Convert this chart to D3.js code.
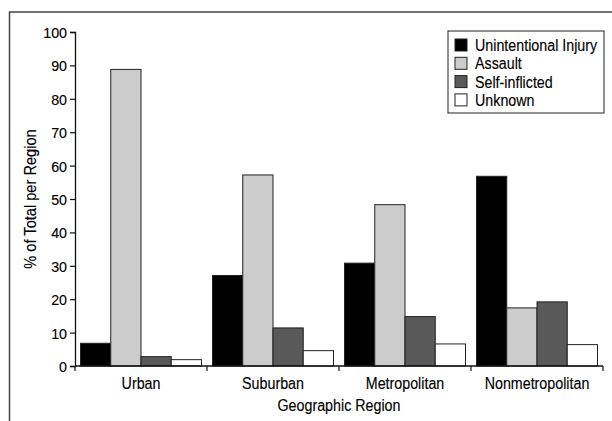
<!DOCTYPE html>
<html>
<head>
<meta charset="utf-8">
<script src="https://cdn.jsdelivr.net/npm/d3@7"></script>
<style>
    body { margin: 0; background: #fff; }
    text { font-family: "Liberation Sans", Arial, sans-serif; fill: #000; stroke: #000; stroke-width: 0.15px; }
</style>
</head>
<body>
<svg id="chart" width="612" height="421"></svg>
<script>
// chart data
var regions = ["Urban", "Suburban", "Metropolitan", "Nonmetropolitan"];
var seriesNames = ["Unintentional Injury", "Assault", "Self-inflicted", "Unknown"];
var unintentional = [6.8, 27.1, 30.8, 56.8];
var assault = [88.8, 57.2, 48.3, 17.4];
var selfInflicted = [2.8, 11.4, 14.8, 19.2];
var unknown = [1.9, 4.6, 6.6, 6.4];
var yTicks = [0, 10, 20, 30, 40, 50, 60, 70, 80, 90, 100];

var seriesValues = [unintentional, assault, selfInflicted, unknown];
var seriesColors = ["#000000", "#cccccc", "#595959", "#ffffff"];
var labelSize = "17px";
var squeeze = 0.84;

var svg = d3.select("#chart");

/*
 *** Narrow the text horizontally to look like a condensed face
 */
function condense(selection, factor){
    selection.each(function(){
        var t = d3.select(this);
        var tx = +t.attr("x") || 0;
        var ty = +t.attr("y") || 0;
        var base = t.attr("transform") || ("translate(" + tx + "," + ty + ")");
        t.attr("x", null).attr("y", null)
            .attr("transform", base + " scale(" + factor + ",1)");
    });
}

/*
 *** Outer frame
 */
svg.append("rect")
    .attr("x", 9.5).attr("y", 12)
    .attr("width", 640).attr("height", 440)
    .attr("fill", "none")
    .attr("stroke", "#444")
    .attr("stroke-width", 1.5);

var x0 = d3.scaleBand()
    .domain(regions)
    .range([75, 603])
    .paddingInner(0)
    .paddingOuter(0);

var x1 = d3.scaleBand()
    .domain(seriesNames)
    .range([5.5, x0.bandwidth() - 5.5]);

var y = d3.scaleLinear()
    .domain([0, 100])
    .range([366, 32]);

// Bars
var groups = svg.selectAll(".regionGroup")
    .data(regions)
    .enter().append("g")
    .attr("class", "regionGroup")
    .attr("transform", function(d){ return "translate(" + x0(d) + ",0)"; });

groups.selectAll("rect")
    .data(function(d, i){
        return seriesNames.map(function(s, j){ return {series: s, value: seriesValues[j][i], color: seriesColors[j]}; });
    })
    .enter().append("rect")
    .attr("x", function(d){ return x1(d.series); })
    .attr("y", function(d){ return y(d.value); })
    .attr("width", x1.bandwidth())
    .attr("height", function(d){ return y(0) - y(d.value); })
    .attr("fill", function(d){ return d.color; })
    .attr("stroke", "#222")
    .attr("stroke-width", 1);

// Y axis
var yAxis = svg.append("g")
    .attr("transform", "translate(75,0)")
    .call(d3.axisLeft(y).tickValues(yTicks).tickSize(5).tickPadding(3));
yAxis.attr("font-family", null).attr("font-size", null);
yAxis.select(".domain").attr("stroke", "#111").attr("stroke-width", 1.3);
yAxis.selectAll(".tick line").attr("stroke", "#111").attr("stroke-width", 1.2);
yAxis.selectAll(".tick text")
    .attr("font-size", "15.5px")
    .attr("dy", "0.36em")
    .call(condense, 0.92);

// X axis: ticks sit at band edges
var xAxis = svg.append("g")
    .attr("transform", "translate(0,366)");
xAxis.append("line")
    .attr("x1", 75).attr("x2", 603)
    .attr("stroke", "#111").attr("stroke-width", 1.3);
var edges = d3.range(regions.length + 1).map(function(i){ return 75 + i * x0.bandwidth(); });
xAxis.selectAll(".edgeTick")
    .data(edges)
    .enter().append("line")
    .attr("class", "edgeTick")
    .attr("x1", function(d){ return d; }).attr("x2", function(d){ return d; })
    .attr("y1", 0).attr("y2", 5)
    .attr("stroke", "#111").attr("stroke-width", 1.2);
xAxis.selectAll(".catLabel")
    .data(regions)
    .enter().append("text")
    .attr("class", "catLabel")
    .attr("x", function(d){ return x0(d) + x0.bandwidth() / 2; })
    .attr("y", 22.5)
    .attr("text-anchor", "middle")
    .attr("font-size", labelSize)
    .text(function(d){ return d; })
    .call(condense, squeeze);

// Axis titles
svg.append("text")
    .attr("x", 339).attr("y", 411)
    .attr("text-anchor", "middle")
    .attr("font-size", labelSize)
    .text("Geographic Region")
    .call(condense, squeeze);

svg.append("text")
    .attr("transform", "translate(36,199) rotate(-90)")
    .attr("text-anchor", "middle")
    .attr("font-size", labelSize)
    .text("% of Total per Region")
    .call(condense, 0.86);

/*
 *** Legend
 */
var legend = svg.append("g").attr("transform", "translate(448,31)");
legend.append("rect")
    .attr("width", 156).attr("height", 82)
    .attr("fill", "#fff")
    .attr("stroke", "#222").attr("stroke-width", 1);

var legendRows = legend.selectAll(".legendRow")
    .data(seriesNames)
    .enter().append("g")
    .attr("class", "legendRow")
    .attr("transform", function(d, i){ return "translate(7," + (8 + i * 18.3) + ")"; });

legendRows.append("rect")
    .attr("width", 12).attr("height", 12)
    .attr("fill", function(d, i){ return seriesColors[i]; })
    .attr("stroke", "#222").attr("stroke-width", 1);

legendRows.append("text")
    .attr("x", 20).attr("y", 12)
    .attr("font-size", labelSize)
    .text(function(d){ return d; })
    .call(condense, squeeze);
</script>
</body>
</html>
